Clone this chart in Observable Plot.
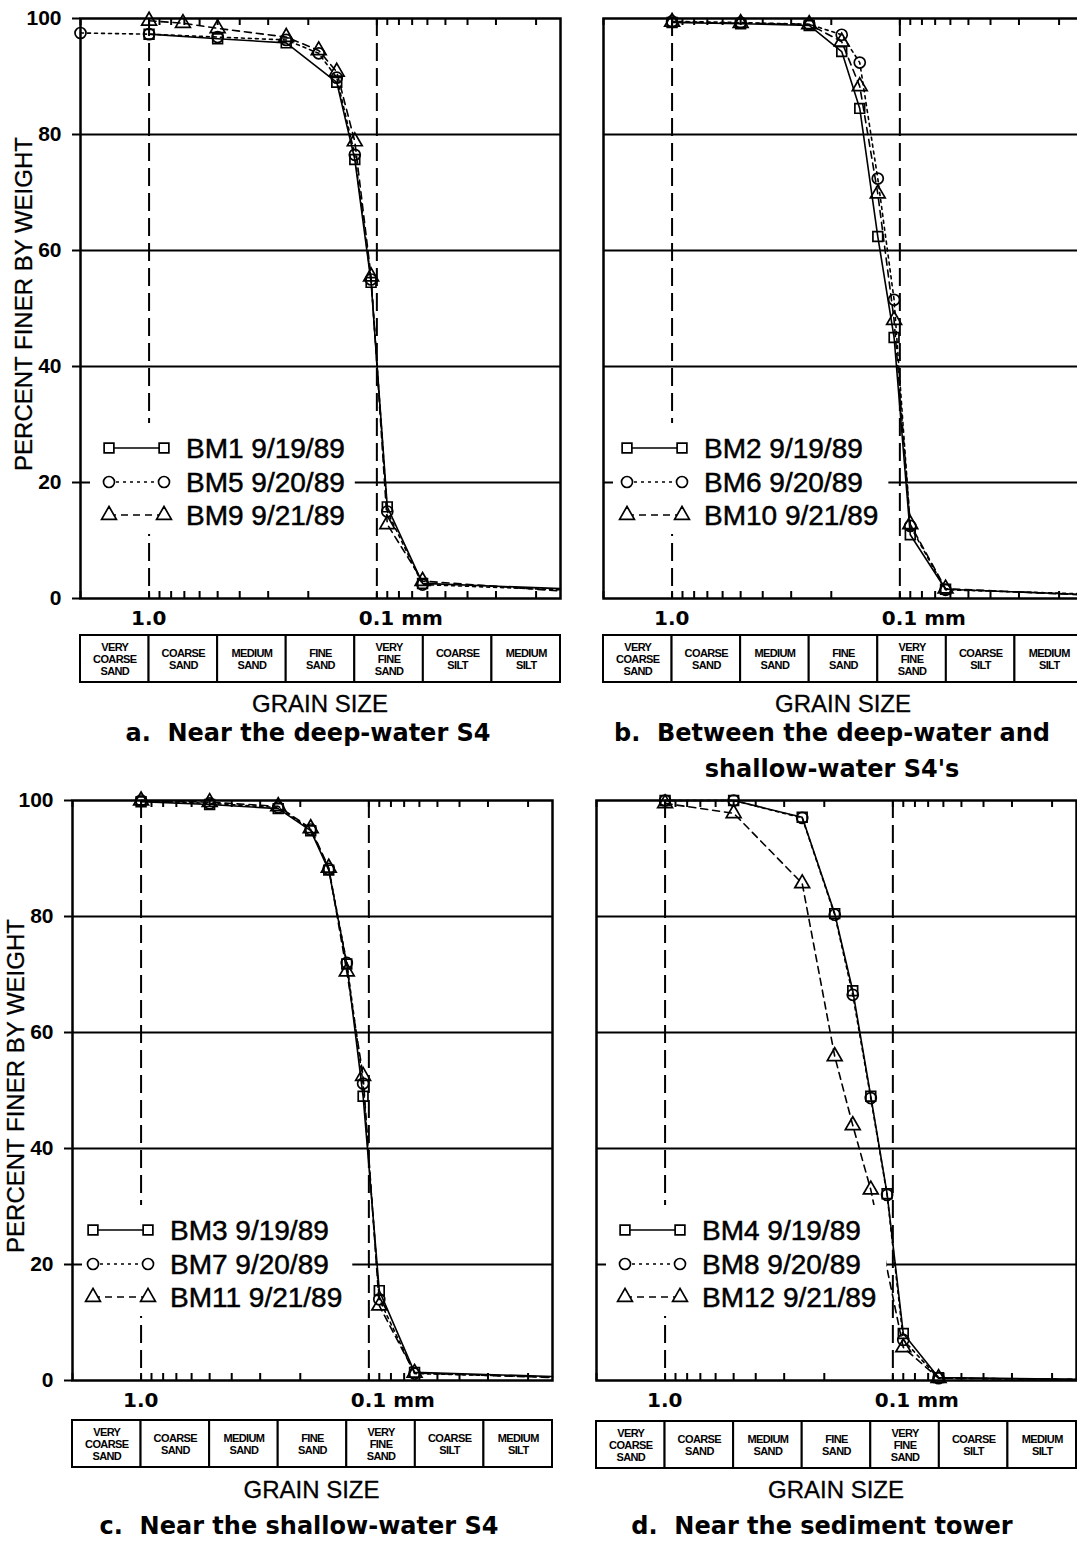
<!DOCTYPE html>
<html><head><meta charset="utf-8">
<script src="https://cdn.jsdelivr.net/npm/d3@7"></script>
<script src="https://cdn.jsdelivr.net/npm/@observablehq/plot@0.6"></script>
<style>
body{margin:0;background:#fff;}
#root{position:relative;width:1077px;height:1543px;overflow:hidden;background:#fff;font-family:"Liberation Sans",Arial,sans-serif;color:#000}
.grain{position:absolute;font-size:24px;transform:translate(-50%,-50%);white-space:nowrap;-webkit-text-stroke:0.3px #000;line-height:1}
.cap{position:absolute;font-family:"DejaVu Sans",sans-serif;font-weight:bold;font-size:24px;transform:translate(-50%,-50%);white-space:pre;line-height:1}
.ytitle{position:absolute;font-size:24px;white-space:nowrap;transform:translate(-50%,-50%) rotate(-90deg);line-height:1;-webkit-text-stroke:0.3px #000}
</style></head><body><div id="root"></div>
<script>
// ---------------- DATA ----------------
// sieve sizes (mm); the last value is the fine end of the curve at the chart edge
const sieveSizes = [2, 1, 0.71, 0.5, 0.25, 0.18, 0.15, 0.125, 0.106, 0.09, 0.063, 0.015625];
// percent finer by weight (null = not measured / not plotted)
const BM1  = [null, 97.3, null, 96.5, 95.8, null, 89.0, 75.7, 54.5, 15.8, 2.6, 1.7];
const BM5  = [97.5, 97.3, null, 96.8, 96.3, 94.0, 89.8, 76.5, 55.0, 15.0, 2.4, 1.5];
const BM9  = [null, 99.6, 99.2, 98.3, 96.8, 94.5, 90.8, 78.8, 55.5, 12.8, 3.0, 1.3];
const BM2  = [null, 99.3, null, 99.1, 98.8, 94.3, 84.5, 62.4, 45.0, 11.0, 1.6, 0.7];
const BM6  = [null, 99.5, null, 99.3, 99.0, 97.2, 92.4, 72.4, 51.5, 12.5, 1.5, 0.8];
const BM10 = [null, 99.4, null, 99.2, 99.0, 96.0, 88.3, 69.8, 48.0, 12.8, 1.7, 0.6];
const BM3  = [null, 99.8, null, 99.3, 98.6, 94.8, 88.0, 71.8, 49.0, 15.5, 1.4, 0.7];
const BM7  = [null, 100,  null, 99.5, 98.8, 95.0, 88.2, 72.0, 51.2, 14.0, 1.2, 0.6];
const BM11 = [null, 100,  null, 99.7, 99.0, 95.2, 88.4, 70.5, 52.5, 12.9, 1.3, 0.5];
const BM4  = [null, 100,  null, 100,  97.1, 80.5, 67.2, 49.0, 32.2, 8.1, 0.5, 0.2];
const BM8  = [null, 100,  null, 100,  97.0, 80.3, 66.5, 48.7, 32.0, 7.0, 0.4, 0.2];
const BM12 = [null, 99.5, null, 97.8, 85.7, 55.9, 44.0, 32.9, null, 5.7, 0.4, 0.2];
const seriesValues = {BM1, BM2, BM3, BM4, BM5, BM6, BM7, BM8, BM9, BM10, BM11, BM12};
const sampleDates = ["9/19/89", "9/20/89", "9/21/89"];

// grain-size classes (mm bounds) and names
const classBounds = [2, 1, 0.5, 0.25, 0.125, 0.0625, 0.03125, 0.015625];
const classNames = ["VERY\nCOARSE\nSAND", "COARSE\nSAND", "MEDIUM\nSAND", "FINE\nSAND", "VERY\nFINE\nSAND", "COARSE\nSILT", "MEDIUM\nSILT"];

// axis ticks
const minorTicks = [2, 1, 0.9, 0.8, 0.7, 0.6, 0.5, 0.4, 0.3, 0.2, 0.1, 0.09, 0.08, 0.07, 0.06, 0.05, 0.04, 0.03, 0.02];
const labeledTicks = [1, 0.1];
const labeledTickText = ["1.0", "0.1 mm"];
const yTicks = [0, 20, 40, 60, 80, 100];
const gridValues = [20, 40, 60, 80];
const yTitle = "PERCENT FINER BY WEIGHT";
const xTitle = "GRAIN SIZE";

// ---------------- LAYOUT ----------------
const panels = [
  {series: ["BM1", "BM5", "BM9"], caption: ["a.  Near the deep-water S4"],
   frameLeft: 80, frameTop: 18, yAxis: true, legendX: 29, boxTop: 635, grainY: 704, captionX: 308, captionY: [733]},
  {series: ["BM2", "BM6", "BM10"], caption: ["b.  Between the deep-water and", "shallow-water S4's"],
   frameLeft: 603, frameTop: 18, yAxis: false, legendX: 24, boxTop: 635, grainY: 704, captionX: 832, captionY: [733, 769]},
  {series: ["BM3", "BM7", "BM11"], caption: ["c.  Near the shallow-water S4"],
   frameLeft: 71.5, frameTop: 800, yAxis: true, legendX: 21, boxTop: 1420, grainY: 1490, captionX: 299, captionY: [1526]},
  {series: ["BM4", "BM8", "BM12"], caption: ["d.  Near the sediment tower"],
   frameLeft: 596, frameTop: 800, yAxis: false, legendX: 29, boxTop: 1421, grainY: 1490, captionX: 822, captionY: [1526]}
];
const FW = 480, FH = 580, ML = 90, MR = 12, MT = 14, MB = 44;
const styles = [
  {dash: null, symbol: "square", d3sym: d3.symbolSquare},
  {dash: "3,4", symbol: "circle", d3sym: d3.symbolCircle},
  {dash: "7,5", symbol: "triangle", d3sym: d3.symbolTriangle}
];
const R = 5.5;
const root = document.getElementById("root");

function place(el, left, top) {
  el.style.position = "absolute";
  el.style.left = left + "px";
  el.style.top = top + "px";
  root.appendChild(el);
}

const xScale = {type: "log", domain: [classBounds[0], classBounds[classBounds.length - 1]], range: [ML, ML + FW]};

panels.forEach(p => {
  const rowsFor = name => sieveSizes.map((s, i) => ({size: s, pct: seriesValues[name][i]})).filter(d => d.pct != null);
  const marks = [
    Plot.ruleY(gridValues, {stroke: "#000", strokeWidth: 2}),
    Plot.ruleX(labeledTicks, {stroke: "#000", strokeWidth: 2, strokeDasharray: "18,7"}),
    Plot.tickX(minorTicks, {x: d => d, insetBottom: FH - 7, strokeWidth: 2}),
    Plot.tickX(minorTicks, {x: d => d, insetTop: FH - 7, strokeWidth: 2})
  ];
  p.series.forEach((name, k) => {
    marks.push(Plot.line(rowsFor(name), {x: "size", y: "pct", stroke: "#000", strokeWidth: 1.6, strokeDasharray: styles[k].dash}));
  });
  [2, 1, 0].forEach(k => {
    marks.push(Plot.dot(rowsFor(p.series[k]), {x: "size", y: "pct", symbol: styles[k].symbol, r: R, fill: "none", stroke: "#000", strokeWidth: 1.7, filter: d => d.size > 0.02}));
  });
  marks.push(Plot.frame({stroke: "#000", strokeWidth: 2.5}));
  marks.push(Plot.axisX({ticks: labeledTicks, tickSize: 0, tickPadding: 12, tickFormat: d => labeledTickText[labeledTicks.indexOf(d)],
    textAnchor: "start", dx: -18, fontSize: 20, fontWeight: "bold", fontFamily: "DejaVu Sans", label: null}));
  if (p.yAxis) {
    marks.push(Plot.axisY({ticks: yTicks, tickSize: 8, tickPadding: 11, strokeWidth: 2, fontSize: 21, fontWeight: "bold", label: null}));
  }
  const main = Plot.plot({
    width: ML + FW + MR, height: MT + FH + MB,
    marginLeft: ML, marginRight: MR, marginTop: MT, marginBottom: MB,
    x: {...xScale, axis: null},
    y: {domain: [0, 100], range: [MT + FH, MT], axis: null},
    style: {fontFamily: "Liberation Sans, Arial, sans-serif", color: "#000", background: "transparent", overflow: "visible"},
    marks
  });
  place(main, p.frameLeft - ML, p.frameTop - MT);

  // legend (inside the panel, over a white patch)
  const frameBottom = p.frameTop + FH;
  const lg = d3.create("svg").attr("width", 330).attr("height", 115).style("overflow", "visible");
  const bg = lg.append("rect").attr("x", 0).attr("y", 0).attr("height", 111).attr("fill", "#fff");
  const rowY = [25, 59, 92];
  const x0 = p.legendX - 10;
  const texts = [];
  p.series.forEach((name, k) => {
    const g = lg.append("g").attr("transform", `translate(0,${rowY[k]})`);
    g.append("line").attr("x1", x0).attr("x2", x0 + 55).attr("y1", 0).attr("y2", 0)
      .attr("stroke", "#000").attr("stroke-width", 1.6).attr("stroke-dasharray", styles[k].dash);
    [x0, x0 + 55].forEach(cx => {
      g.append("path").attr("d", d3.symbol(styles[k].d3sym, Math.PI * R * R)())
        .attr("transform", `translate(${cx},0)`).attr("fill", "#fff").attr("stroke", "#000").attr("stroke-width", 1.7);
    });
    texts.push(g.append("text").attr("x", x0 + 77).attr("y", 0).attr("dy", "0.36em")
      .attr("font-size", 28).attr("font-family", "Liberation Sans, Arial, sans-serif")
      .attr("stroke", "#000").attr("stroke-width", 0.5)
      .text(`${name} ${sampleDates[k]}`));
  });
  place(lg.node(), p.frameLeft + 10, frameBottom - 150 - 25);
  let maxEnd = 0;
  texts.forEach(t => { maxEnd = Math.max(maxEnd, x0 + 77 + t.node().getComputedTextLength()); });
  bg.attr("width", maxEnd + 10);

  // grain-size class boxes
  const classRows = classNames.map((n, i) => ({coarse: classBounds[i], fine: classBounds[i + 1], name: n}));
  const boxes = Plot.plot({
    width: ML + FW + MR, height: 51, marginLeft: ML, marginRight: MR, marginTop: 2, marginBottom: 2,
    x: {...xScale, axis: null},
    style: {fontFamily: "Liberation Sans, Arial, sans-serif", color: "#000", background: "transparent", overflow: "visible", letterSpacing: "-0.6px"},
    marks: [
      Plot.rect(classRows, {x1: "coarse", x2: "fine", fill: "#fff", stroke: "#000", strokeWidth: 2}),
      Plot.text(classRows, {x: d => Math.sqrt(d.coarse * d.fine), text: "name", frameAnchor: "middle", fontSize: 11, fontWeight: "bold", lineHeight: 1.12})
    ]
  });
  place(boxes, p.frameLeft - ML, p.boxTop - 2);

  // x title
  const gx = document.createElement("div");
  gx.className = "grain";
  gx.textContent = xTitle;
  place(gx, p.frameLeft + FW / 2, p.grainY);

  // y title
  if (p.yAxis) {
    const yt = document.createElement("div");
    yt.className = "ytitle";
    yt.textContent = yTitle;
    place(yt, p.frameLeft - 56, p.frameTop + FH / 2 - 4);
  }

  // caption
  p.caption.forEach((line, i) => {
    const c = document.createElement("div");
    c.className = "cap";
    c.textContent = line;
    place(c, p.captionX, p.captionY[i]);
  });
});
</script></body></html>
